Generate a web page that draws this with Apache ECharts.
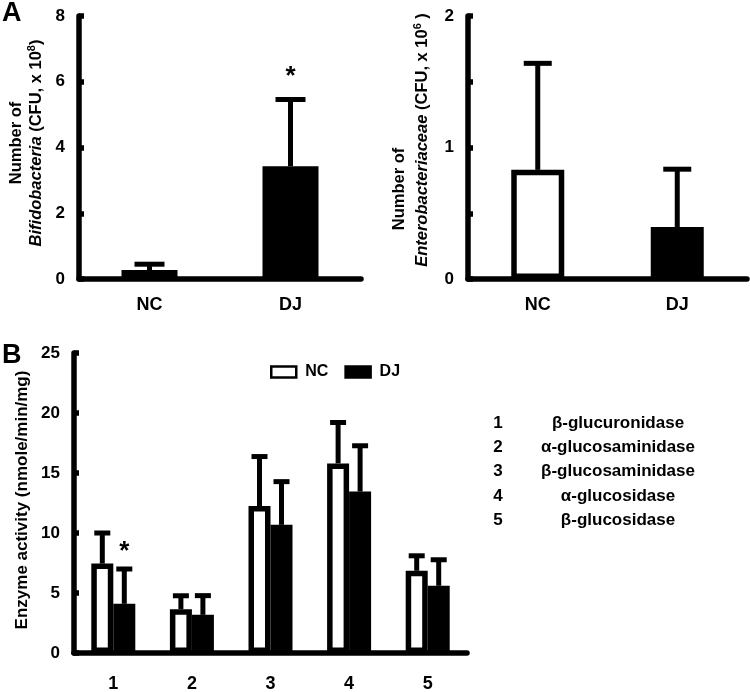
<!DOCTYPE html>
<html><head><meta charset="utf-8">
<script src="https://cdn.jsdelivr.net/npm/echarts@6/dist/echarts.min.js"></script>
<style>html,body{margin:0;padding:0;background:#fff}#c{width:750px;height:692px}</style>
</head><body><div id="c"></div>
<script>
// ---- data ----
const groupsA = ['NC', 'DJ'];
const bifidoMean = [0.27, 3.43];
const bifidoSD = [0.18, 2.03];
const bifidoSig = [false, true];
const enteroMean = [0.83, 0.395];
const enteroSD = [0.81, 0.44];
const enteroSig = [false, false];
const enzymeIds = ['1', '2', '3', '4', '5'];
const enzymeNames = ['β-glucuronidase', 'α-glucosaminidase', 'β-glucosaminidase', 'α-glucosidase', 'β-glucosidase'];
const ncMean = [7.45, 3.65, 12.25, 15.8, 6.85];
const ncSD = [2.55, 1.12, 4.12, 3.41, 1.25];
const ncSig = [false, false, false, false, false];
const djMean = [4.1, 3.18, 10.68, 13.45, 5.6];
const djSD = [2.9, 1.6, 3.6, 3.82, 2.17];
const djSig = [true, false, false, false, false];

// ---- style ----
const F = '"Liberation Sans", Arial, Helvetica, sans-serif';
const AW = 5.5;   // axis line width
const BW = 5.5;   // bar border width
const EW = 5;     // error bar line width
const chart = echarts.init(document.getElementById('c'), null, {renderer: 'canvas'});

function axisCommonX(gi, cats, margin) {
  return {
    type: 'category', gridIndex: gi, data: cats, boundaryGap: true,
    axisLine: {lineStyle: {color: '#000', width: AW}},
    axisTick: {inside: true, length: 6, lineStyle: {color: '#000', width: AW}},
    axisLabel: {color: '#000', fontFamily: F, fontWeight: 'bold', fontSize: 18, margin: margin},
    splitLine: {show: false}
  };
}
function axisCommonY(gi, max, interval, fmt) {
  return {
    type: 'value', gridIndex: gi, min: 0, max: max, interval: interval,
    axisLine: {show: true, lineStyle: {color: '#000', width: AW}},
    axisTick: {show: true, inside: true, length: 5, lineStyle: {color: '#000', width: AW}},
    axisLabel: {color: '#000', fontFamily: F, fontWeight: 'bold', fontSize: 17, margin: 14, formatter: fmt},
    splitLine: {show: false}
  };
}

function errSeries(gi, mean, sd, sig, offset, cap, starGap) {
  return {
    type: 'custom', xAxisIndex: gi, yAxisIndex: gi, z: 1,
    data: mean.map((m, i) => [i, m, m + sd[i], sig[i] ? 1 : 0]),
    renderItem: function (params, api) {
      const i = api.value(0);
      const p0 = api.coord([i, api.value(1)]);
      const p1 = api.coord([i, api.value(2)]);
      const x = p0[0] + offset;
      const ch = [
        {type: 'line', shape: {x1: x, y1: p0[1], x2: x, y2: p1[1]}, style: {stroke: '#000', lineWidth: EW}},
        {type: 'line', shape: {x1: x - cap / 2, y1: p1[1], x2: x + cap / 2, y2: p1[1]}, style: {stroke: '#000', lineWidth: EW}}
      ];
      if (api.value(3)) {
        ch.push({type: 'text', x: x, y: p1[1] - starGap,
          style: {text: '*', fill: '#000', font: 'bold 26px ' + F, textAlign: 'center', textVerticalAlign: 'middle'}});
      }
      return {type: 'group', children: ch};
    }
  };
}

function colored(vals) {
  return vals.map((v, i) => ({value: v, itemStyle: {color: i === 0 ? '#fff' : '#000', borderColor: '#000', borderWidth: BW}}));
}

const option = {
  backgroundColor: '#fff',
  animation: false,
  grid: [
    {left: 79, top: 16, width: 282, height: 263, containLabel: false, outerBoundsMode: 'none'},
    {left: 468, top: 16, width: 279, height: 263, containLabel: false, outerBoundsMode: 'none'},
    {left: 74, top: 353, width: 393, height: 300, containLabel: false, outerBoundsMode: 'none'}
  ],
  xAxis: [axisCommonX(0, groupsA, 17), axisCommonX(1, groupsA, 17), axisCommonX(2, enzymeIds, 22)],
  yAxis: [
    axisCommonY(0, 8, 2),
    axisCommonY(1, 2, 0.5, v => (Math.abs(v - Math.round(v)) < 1e-6 ? String(Math.round(v)) : '')),
    axisCommonY(2, 25, 5)
  ],
  legend: {
    left: 270, top: 364, padding: 0, itemWidth: 25, itemHeight: 11, itemGap: 16,
    textStyle: {color: '#000', fontFamily: F, fontWeight: 'bold', fontSize: 16, padding: [0, 0, 0, 4]},
    data: [
      {name: 'NC', icon: 'rect', itemStyle: {color: '#fff', borderColor: '#000', borderWidth: 2.5}},
      {name: 'DJ', icon: 'rect', itemStyle: {color: '#000', borderColor: '#000', borderWidth: 2.5}}
    ]
  },
  series: [
    {type: 'bar', name: 'bifido', xAxisIndex: 0, yAxisIndex: 0, barWidth: 56, data: colored(bifidoMean), z: 2},
    errSeries(0, bifidoMean, bifidoSD, bifidoSig, 0, 30, 23),
    {type: 'bar', name: 'entero', xAxisIndex: 1, yAxisIndex: 1, barWidth: 53, data: colored(enteroMean), z: 2},
    errSeries(1, enteroMean, enteroSD, enteroSig, 0, 28, 22),
    {type: 'bar', name: 'NC', xAxisIndex: 2, yAxisIndex: 2, barWidth: 22, barGap: '0%', z: 2,
      itemStyle: {color: '#fff', borderColor: '#000', borderWidth: BW}, data: ncMean},
    {type: 'bar', name: 'DJ', xAxisIndex: 2, yAxisIndex: 2, barWidth: 22, barGap: '0%', z: 2,
      itemStyle: {color: '#000', borderColor: '#000', borderWidth: BW}, data: djMean},
    errSeries(2, ncMean, ncSD, ncSig, -11, 16, 17),
    errSeries(2, djMean, djSD, djSig, 11, 16, 17)
  ],
  graphic: [
    {type: 'text', left: 2, top: 0, style: {text: 'A', font: 'bold 27px ' + F, fill: '#000'}},
    {type: 'text', left: 2, top: 342, style: {text: 'B', font: 'bold 27px ' + F, fill: '#000'}},
    {type: 'text', x: 16, y: 143, rotation: Math.PI / 2,
      style: {text: 'Number of', font: 'bold 16.5px ' + F, fill: '#000', textAlign: 'center', textVerticalAlign: 'middle'}},
    {type: 'text', x: 36, y: 143, rotation: Math.PI / 2,
      style: {text: '{i|Bifidobacteria} (CFU, x 10{s|8})', font: 'bold 16.5px ' + F, fill: '#000', textAlign: 'center', textVerticalAlign: 'middle',
        rich: {i: {fontStyle: 'italic', fontWeight: 'bold', fontSize: 16.5, fontFamily: F}, s: {fontSize: 11, fontWeight: 'bold', fontFamily: F, verticalAlign: 'top', padding: [0, 0, 8, 0]}}}},
    {type: 'text', x: 399, y: 189, rotation: Math.PI / 2,
      style: {text: 'Number of', font: 'bold 16.5px ' + F, fill: '#000', textAlign: 'center', textVerticalAlign: 'middle'}},
    {type: 'text', x: 422, y: 140, rotation: Math.PI / 2,
      style: {text: '{i|Enterobacteriaceae} (CFU, x 10{s|6} )', font: 'bold 16.5px ' + F, fill: '#000', textAlign: 'center', textVerticalAlign: 'middle',
        rich: {i: {fontStyle: 'italic', fontWeight: 'bold', fontSize: 16.5, fontFamily: F}, s: {fontSize: 11, fontWeight: 'bold', fontFamily: F, verticalAlign: 'top', padding: [0, 0, 8, 0]}}}},
    {type: 'text', x: 22, y: 500, rotation: Math.PI / 2,
      style: {text: 'Enzyme activity (nmole/min/mg)', font: 'bold 17px ' + F, fill: '#000', textAlign: 'center', textVerticalAlign: 'middle'}}
  ].concat(enzymeIds.map((id, i) => ({type: 'text', x: 498, y: 423 + i * 24.3,
      style: {text: id, font: 'bold 17px ' + F, fill: '#000', textAlign: 'center', textVerticalAlign: 'middle'}})))
   .concat(enzymeNames.map((nm, i) => ({type: 'text', x: 618, y: 423 + i * 24.3,
      style: {text: nm, font: 'bold 17px ' + F, fill: '#000', textAlign: 'center', textVerticalAlign: 'middle'}})))
};
chart.setOption(option);
</script>
</body></html>
